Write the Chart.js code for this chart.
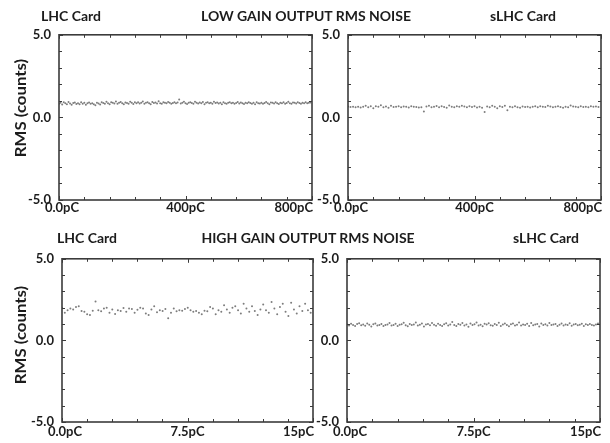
<!DOCTYPE html>
<html>
<head>
<meta charset="utf-8">
<script src="https://cdn.jsdelivr.net/npm/chart.js@4.4.1/dist/chart.umd.min.js"></script>
<style>
  body { margin: 0; background: #fff; }
  #wrap { position: relative; width: 610px; height: 443px; overflow: hidden; }
  canvas { position: absolute; }
  .t { position: absolute; font: bold 14px Lato, sans-serif; color: #1c1c1c; white-space: nowrap; transform: translate(-50%, -50%); }
  .ax { position: absolute; font: bold 15px Lato, sans-serif; color: #1c1c1c; white-space: nowrap; transform: translate(-50%, -50%) rotate(-90deg) scaleX(1.12); }
</style>
</head>
<body>
<div id="wrap">
  <canvas id="c1"></canvas>
  <canvas id="c2"></canvas>
  <canvas id="c3"></canvas>
  <canvas id="c4"></canvas>
  <div class="t" style="left:71px;top:15px">LHC Card</div>
  <div class="t" style="left:306px;top:15px">LOW GAIN OUTPUT RMS NOISE</div>
  <div class="t" style="left:523px;top:15px">sLHC Card</div>
  <div class="t" style="left:87px;top:237px">LHC Card</div>
  <div class="t" style="left:308px;top:237px">HIGH GAIN OUTPUT RMS NOISE</div>
  <div class="t" style="left:546px;top:237px">sLHC Card</div>
  <div class="ax" style="left:20px;top:108px">RMS (counts)</div>
  <div class="ax" style="left:20px;top:335px">RMS (counts)</div>
</div>
<script>
// tick values and labels
const yTicks = [-5, 0, 5];
const yTickLabels = ['-5.0', '0.0', '5.0'];
const lowTicks = [0, 400, 800];
const lowTickLabels = ['0.0pC', '400pC', '800pC'];
const highTicks = [0, 7.5, 15];
const highTickLabels = ['0.0pC', '7.5pC', '15pC'];

// charge step between samples (pC)
const lowLhcStep = 5;
const lowSlhcStep = 8;
const highLhcStep = 0.167;
const highSlhcStep = 0.12;

// RMS noise, counts
const lowLhc = [
  0.82,0.88,0.78,0.91,0.85,0.80,0.93,0.84,0.76,0.87,
  0.90,0.81,0.86,0.79,0.92,0.83,0.88,0.77,0.85,0.90,
  0.82,0.86,0.80,0.74,0.89,0.84,0.78,0.91,0.87,0.83,
  0.95,0.86,0.80,0.92,0.88,0.84,0.97,0.82,0.89,0.93,
  0.85,0.79,0.90,0.87,0.83,0.94,0.88,0.81,0.91,0.86,
  0.92,0.84,0.89,0.96,0.83,0.88,0.91,0.85,0.80,0.93,
  0.87,0.90,0.84,0.98,0.86,0.82,0.91,0.88,0.85,0.93,
  0.89,0.83,0.87,0.92,0.86,0.90,1.08,0.84,0.88,0.94,
  0.85,0.81,0.89,0.92,0.87,0.83,0.95,0.88,0.84,0.90,
  0.86,0.93,0.80,0.88,0.91,0.85,0.89,0.82,0.94,0.87,
  0.90,0.84,0.88,0.79,0.92,0.86,0.83,0.89,0.91,0.85,
  0.88,0.82,0.87,0.93,0.84,0.90,0.86,0.81,0.89,0.85,
  0.92,0.87,0.83,0.88,0.80,0.91,0.86,0.84,0.89,0.82,
  0.87,0.93,0.85,0.79,0.90,0.88,0.84,0.92,0.86,0.81,
  0.89,0.85,0.91,0.83,0.87,0.94,0.86,0.82,0.90,0.88,
  0.84,0.91,0.87,0.83,0.89,0.85,0.92,0.86,0.88,0.90
];
const lowSlhc = [
  0.66,0.63,0.64,0.62,0.65,0.60,0.64,0.70,0.62,0.67,
  0.55,0.68,0.64,0.73,0.61,0.66,0.58,0.70,0.63,0.65,
  0.68,0.62,0.66,0.64,0.60,0.67,0.65,0.63,0.60,0.62,
  0.35,0.66,0.70,0.61,0.64,0.69,0.62,0.67,0.63,0.59,
  0.72,0.65,0.61,0.68,0.64,0.70,0.66,0.62,0.68,0.63,
  0.67,0.60,0.64,0.58,0.32,0.66,0.62,0.71,0.65,0.56,
  0.67,0.63,0.70,0.43,0.64,0.61,0.68,0.62,0.58,0.66,
  0.63,0.65,0.60,0.64,0.67,0.62,0.68,0.65,0.63,0.70,
  0.66,0.61,0.64,0.67,0.63,0.59,0.65,0.62,0.72,0.66,
  0.64,0.61,0.67,0.63,0.65,0.62,0.68,0.64,0.66,0.63
];
const highLhc = [
  2.00,1.70,1.85,1.95,1.90,2.05,2.10,1.80,1.75,1.60,1.55,1.82,2.38,1.85,1.78,1.95,2.00,1.70,1.90,1.62,
  1.85,1.80,1.98,1.75,1.95,1.92,1.70,1.88,2.00,1.95,1.65,1.55,1.90,2.10,1.72,1.85,1.80,1.92,1.35,1.70,
  1.95,1.78,1.85,1.82,1.92,2.00,1.85,1.75,1.80,1.70,1.60,1.82,1.78,2.05,1.95,1.60,1.85,1.75,2.15,1.90,
  1.70,2.00,2.10,1.85,1.65,2.25,1.95,1.75,2.10,1.80,1.55,1.90,2.20,1.85,1.70,2.35,1.95,1.60,2.05,2.25,
  1.75,1.50,2.30,1.90,1.65,2.10,1.80,2.25,1.85,1.70
];
const highSlhc = [
  0.98,0.92,1.02,0.95,0.88,1.00,1.05,0.93,0.97,0.90,
  1.03,0.96,0.85,0.99,1.04,0.92,0.95,1.00,0.88,0.94,
  0.97,1.06,0.91,0.95,1.02,0.89,0.96,0.99,1.08,0.93,
  0.87,1.01,0.95,0.98,1.10,0.92,0.96,1.04,0.85,0.97,
  1.00,0.93,1.07,0.96,0.90,1.02,0.95,0.88,0.99,1.05,
  0.92,0.97,1.12,0.94,0.89,1.01,0.96,1.06,0.91,0.98,
  0.84,1.03,0.95,0.99,1.09,0.92,0.96,0.87,1.02,0.97,
  1.05,0.93,0.90,1.00,0.95,1.08,0.89,0.97,1.03,0.94,
  0.86,0.99,1.04,0.92,0.96,1.10,0.91,0.98,0.95,1.02,
  0.88,1.06,0.93,0.97,1.00,0.85,1.04,0.95,0.99,0.91,
  1.07,0.94,0.97,1.01,0.89,0.96,1.03,0.92,0.98,0.95,
  1.05,0.90,0.97,1.00,0.93,0.96,1.02,0.88,0.99,0.94,
  1.01,0.95,0.92,0.98,1.03
];

// how each x label sits on its tick: first a bit right, last flush to the box
const xLabelAlign = ['center', 'center', 'right'];
const xLabelShift = [3, 0, 1];

// box, inward ticks on all four sides, x labels
const frame = {
  id: 'frame',
  afterDatasetsDraw(chart, args, o) {
    const { ctx, chartArea: a, scales: { x, y } } = chart;
    ctx.save();
    ctx.strokeStyle = '#3b3b3b';
    ctx.lineWidth = 1;
    const line = (x1, y1, x2, y2) => { ctx.beginPath(); ctx.moveTo(x1, y1); ctx.lineTo(x2, y2); ctx.stroke(); };
    for (let v = x.min; v <= x.max + 1e-6; v += o.xStep) {
      const px = Math.round(x.getPixelForValue(v)) + 0.5;
      const len = o.xt.some(m => Math.abs(m - v) < 1e-6) ? 4 : 3;
      line(px, a.top, px, a.top + len);
      line(px, a.bottom, px, a.bottom - len);
    }
    for (let v = y.min; v <= y.max; v += 1) {
      const py = Math.round(y.getPixelForValue(v)) + 0.5;
      const len = yTicks.includes(v) ? 4 : 3;
      line(a.left, py, a.left + len, py);
      line(a.right, py, a.right - len, py);
    }
    ctx.lineWidth = 1.6;
    ctx.strokeRect(a.left, a.top, a.right - a.left, a.bottom - a.top);

    ctx.fillStyle = '#1c1c1c';
    ctx.font = 'bold 13px Lato';
    ctx.textBaseline = 'middle';
    o.xt.forEach((v, i) => {
      ctx.textAlign = xLabelAlign[i];
      ctx.fillText(o.xtl[i], x.getPixelForValue(v) + xLabelShift[i], a.bottom + o.xPad);
    });
    ctx.restore();
  }
};

function panel(id, left, top, w, h, values, step, xMax, xt, xtl, xStep, xPad) {
  const el = document.getElementById(id);
  el.width = w; el.height = h;
  el.style.left = left + 'px';
  el.style.top = top + 'px';
  const pts = values.map((v, i) => ({ x: i * step, y: v }));
  return new Chart(el, {
    type: 'scatter',
    data: { datasets: [{ data: pts, pointRadius: 1, pointBorderWidth: 0, backgroundColor: '#7d7d7d' }] },
    options: {
      responsive: false, animation: false, events: [],
      layout: { padding: { top: 10, right: 25, left: 0, bottom: 0 } },
      plugins: { legend: { display: false }, tooltip: { enabled: false }, frame: { xStep, xt, xtl, xPad } },
      scales: {
        x: {
          type: 'linear', min: 0, max: xMax,
          grid: { display: false, drawTicks: false }, border: { display: false },
          afterBuildTicks: s => { s.ticks = xt.map(v => ({ value: v })); },
          afterFit: s => { s.height = 22; },
          ticks: { display: false }
        },
        y: {
          min: -5, max: 5,
          grid: { display: false, drawTicks: false }, border: { display: false },
          afterBuildTicks: s => { s.ticks = yTicks.map(v => ({ value: v })); },
          afterFit: s => { s.width = 45; },
          ticks: { padding: 8, color: '#1c1c1c', font: { family: 'Lato', weight: 'bold', size: 13 },
                   callback: (v, i) => yTickLabels[i] }
        }
      }
    },
    plugins: [frame]
  });
}

panel('c1', 14, 19, 323, 203, lowLhc, lowLhcStep, 800, lowTicks, lowTickLabels, 80, 8);
panel('c2', 303, 19, 323, 203, lowSlhc, lowSlhcStep, 800, lowTicks, lowTickLabels, 80, 8);
panel('c3', 17, 243, 321, 201, highLhc, highLhcStep, 15, highTicks, highTickLabels, 1.5, 10);
panel('c4', 302, 243, 323, 201, highSlhc, highSlhcStep, 15, highTicks, highTickLabels, 1.5, 10);
</script>
</body>
</html>
